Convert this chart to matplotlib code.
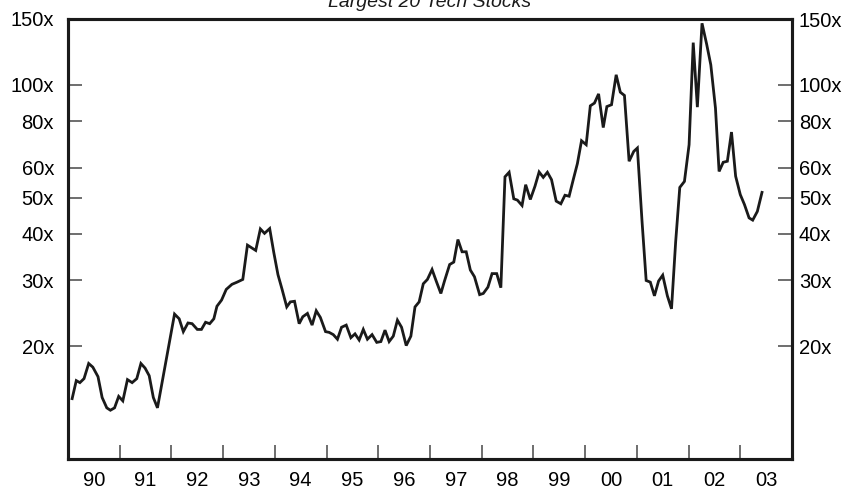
""" Forward P/E of the largest 20 tech stocks, 1990-2003 (log scale).
"""
import matplotlib
matplotlib.use("Agg")
import matplotlib.pyplot as plt
from matplotlib.ticker import FixedLocator, NullLocator

plt.rcParams["font.family"] = ["Liberation Sans", "DejaVu Sans"]

# month-end dates (decimal years) and multiples
dates = [
    1990.08, 1990.16, 1990.23, 1990.31, 1990.40, 1990.48, 1990.58, 1990.66,
    1990.75, 1990.82, 1990.90, 1990.98, 1991.06, 1991.15, 1991.24, 1991.33,
    1991.41, 1991.49, 1991.57, 1991.65, 1991.73, 1992.06, 1992.15, 1992.23,
    1992.32, 1992.40, 1992.50, 1992.58, 1992.66, 1992.74, 1992.82, 1992.88,
    1992.97, 1993.06, 1993.17, 1993.27, 1993.38, 1993.47, 1993.63, 1993.72,
    1993.80, 1993.90, 1993.98, 1994.06, 1994.14, 1994.23, 1994.30, 1994.38,
    1994.47, 1994.54, 1994.63, 1994.72, 1994.80, 1994.88, 1994.98, 1995.05,
    1995.13, 1995.21, 1995.29, 1995.38, 1995.47, 1995.55, 1995.63, 1995.71,
    1995.79, 1995.88, 1995.97, 1996.05, 1996.13, 1996.21, 1996.29, 1996.37,
    1996.45, 1996.54, 1996.63, 1996.71, 1996.79, 1996.87, 1996.95, 1997.04,
    1997.12, 1997.21, 1997.28, 1997.38, 1997.46, 1997.54, 1997.62, 1997.70,
    1997.78, 1997.86, 1997.96, 1998.03, 1998.12, 1998.20, 1998.29, 1998.37,
    1998.45, 1998.53, 1998.62, 1998.69, 1998.78, 1998.85, 1998.94, 1999.03,
    1999.11, 1999.19, 1999.27, 1999.35, 1999.44, 1999.53, 1999.61, 1999.69,
    1999.77, 1999.85, 1999.93, 2000.02, 2000.10, 2000.18, 2000.26, 2000.35,
    2000.42, 2000.51, 2000.60, 2000.68, 2000.76, 2000.85, 2000.94, 2001.01,
    2001.10, 2001.18, 2001.26, 2001.34, 2001.42, 2001.50, 2001.59, 2001.67,
    2001.75, 2001.83, 2001.92, 2002.01, 2002.09, 2002.17, 2002.26, 2002.35,
    2002.43, 2002.52, 2002.59, 2002.67, 2002.75, 2002.83, 2002.91, 2003.00,
    2003.08, 2003.17, 2003.24, 2003.33, 2003.42,
]
multiples = [
    14.5, 16.2, 16.0, 16.4, 18.0, 17.6, 16.6, 14.6,
    13.7, 13.5, 13.7, 14.7, 14.3, 16.3, 16.0, 16.4,
    18.0, 17.5, 16.7, 14.6, 13.7, 24.4, 23.7, 21.9,
    23.1, 23.0, 22.2, 22.2, 23.2, 23.0, 23.7, 25.6,
    26.6, 28.4, 29.3, 29.7, 30.2, 37.3, 36.1, 41.2,
    40.1, 41.3, 35.6, 31.1, 28.4, 25.5, 26.3, 26.4,
    23.0, 24.0, 24.5, 22.8, 24.9, 23.9, 21.9, 21.8,
    21.5, 20.9, 22.5, 22.8, 21.1, 21.6, 20.8, 22.2,
    20.9, 21.5, 20.5, 20.6, 22.1, 20.6, 21.3, 23.5,
    22.5, 20.1, 21.3, 25.5, 26.3, 29.4, 30.2, 32.1,
    29.9, 27.7, 29.9, 33.1, 33.6, 38.6, 35.8, 35.8,
    32.0, 30.7, 27.5, 27.7, 28.8, 31.3, 31.3, 28.7,
    56.8, 58.4, 49.6, 49.2, 47.6, 54.1, 49.4, 53.6,
    58.5, 56.6, 58.4, 55.8, 48.9, 48.1, 50.7, 50.4,
    55.8, 61.6, 70.9, 69.2, 87.9, 89.4, 94.6, 76.9,
    87.5, 88.5, 106.4, 95.6, 93.7, 62.5, 66.4, 67.8,
    43.2, 30.0, 29.7, 27.3, 29.9, 31.0, 27.3, 25.2,
    38.0, 53.2, 55.2, 69.2, 129.7, 87.2, 146.1, 128.4,
    113.1, 86.7, 58.7, 62.1, 62.5, 74.8, 57.0, 50.9,
    47.9, 44.1, 43.5, 45.9, 51.6,
]

y_ticks = [20, 30, 40, 50, 60, 80, 100, 150]
y_labels = ["20x", "30x", "40x", "50x", "60x", "80x", "100x", "150x"]
year_labels = ["90", "91", "92", "93", "94", "95", "96", "97",
               "98", "99", "00", "01", "02", "03"]

fig = plt.figure(figsize=(8.53, 4.91), dpi=100)
ax = fig.add_axes([68 / 853, 1 - 459 / 491, (792 - 68) / 853, (459 - 19) / 491])

ax.plot(dates, multiples, color="#1a1a1a", linewidth=2.0, solid_joinstyle="miter")

ax.set_yscale("log")
ax.set_ylim(10, 150)
ax.set_xlim(1990, 2004)


def style_y(axis, pad):
    """ Log ticks with 'x' labels, pointing inward. """
    axis.yaxis.set_major_locator(FixedLocator(y_ticks))
    axis.yaxis.set_minor_locator(NullLocator())
    axis.set_yticklabels(y_labels)
    axis.tick_params(axis="y", which="major", direction="in", length=10,
                     width=1.2, color="#555555", labelsize=14.5, pad=pad)


# left side labels, then a twin for the right side (tighter gap)
style_y(ax, 10)
ax_r = ax.twinx()
ax_r.set_yscale("log")
ax_r.set_ylim(ax.get_ylim())
style_y(ax_r, 5)

# x axis: ticks at year boundaries, labels centred in each year
n_years = len(year_labels)
ax.set_xticks([1990 + i for i in range(1, n_years)])
ax.set_xticklabels([])
ax.set_xticks([1990.5 + i for i in range(n_years)], minor=True)
ax.set_xticklabels(year_labels, minor=True)
ax.tick_params(axis="x", which="major", direction="in", length=10, width=1.2,
               color="#555555")
ax.tick_params(axis="x", which="minor", length=0, labelsize=14.5, pad=9)

for axis in (ax, ax_r):
    for spine in axis.spines.values():
        spine.set_linewidth(2.2)
        spine.set_color("#1a1a1a")

fig.text(430 / 853, 1 - 7 / 491, "Largest 20 Tech Stocks", ha="center",
         va="baseline", style="italic", fontsize=14, color="#1a1a1a")

fig.savefig("out.png", dpi=100)
